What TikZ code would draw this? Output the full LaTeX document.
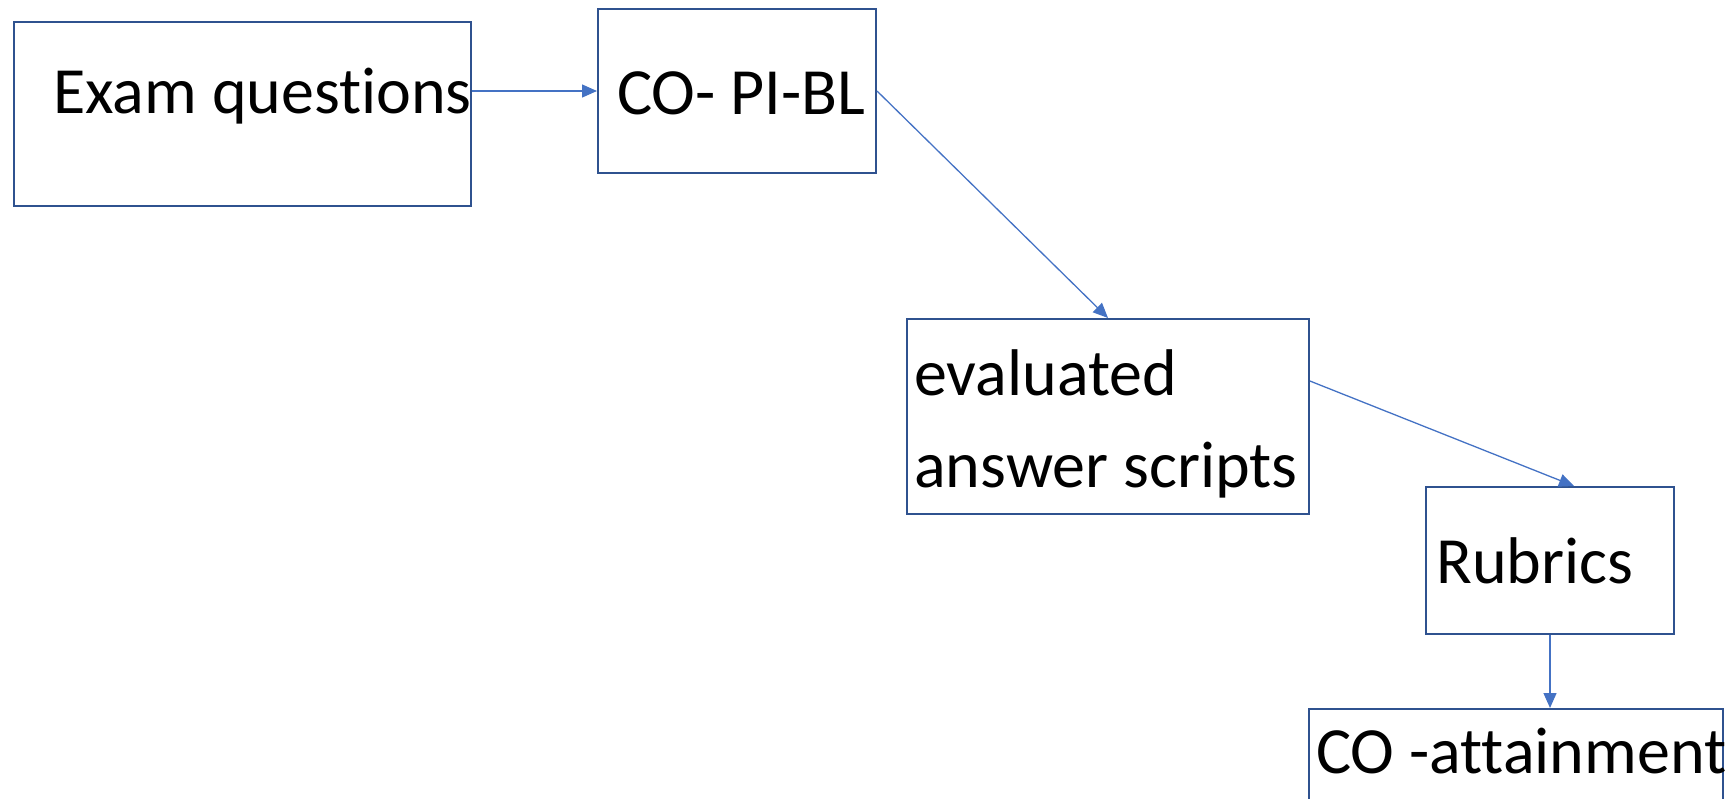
\documentclass[tikz,border=0pt]{standalone}
\usepackage{fontspec}
\setmainfont{Carlito}[Ligatures=CommonOff]
\usepackage{tikz}
\usetikzlibrary{arrows.meta,calc}
\definecolor{boxblue}{HTML}{2F528F}
\definecolor{arrowblue}{HTML}{4472C4}

\begin{document}
\begin{tikzpicture}[x=1pt,y=-1pt,
  box/.style={draw=boxblue,line width=2pt,rectangle,inner sep=0pt},
  txt/.style={anchor=base west,inner sep=0pt,font=\fontsize{66}{92}\selectfont},
  flow/.style={draw=arrowblue,line width=1.3pt,-{Triangle[length=15pt,width=13pt]}}]
  \useasboundingbox (0,0) rectangle (1736,798);
  \clip (0,0) rectangle (1736,798);
  \node[box,minimum width=457pt,minimum height=184pt] (exam) at (242.5,114) {};
  \node[box,minimum width=278pt,minimum height=164pt] (copibl) at (737,91) {};
  \node[box,minimum width=402pt,minimum height=195pt] (evalscripts) at (1108,416.5) {};
  \node[box,minimum width=248pt,minimum height=147pt] (rubrics) at (1550,560.5) {};
  \node[box,minimum width=414pt,minimum height=151pt] (coatt) at (1516,784.5) {};
  \node[txt] (examtext) at (53,113) {Exam questions};
  \node[txt] (copibltext) at (617,114) {CO- PI-BL};
  \node[txt] (evaltext) at (914,395) {evaluated};
  \node[txt] (answertext) at (914,487) {answer scripts};
  \node[txt] (rubricstext) at (1436,583) {Rubrics};
  \node[txt] (coatttext) at (1316,773) {CO -attainment};
  \draw[flow] (copibl.west -| exam.east) -- (copibl.west);
  \draw[flow] (copibl.east) -- (evalscripts.north);
  \draw[flow] ($(evalscripts.north east)!0.32!(evalscripts.south east)$) -- ($(rubrics.north)+(24,0)$);
  \draw[flow] (rubrics.south) -- (rubrics.south |- coatt.north);
\end{tikzpicture}
\end{document}
